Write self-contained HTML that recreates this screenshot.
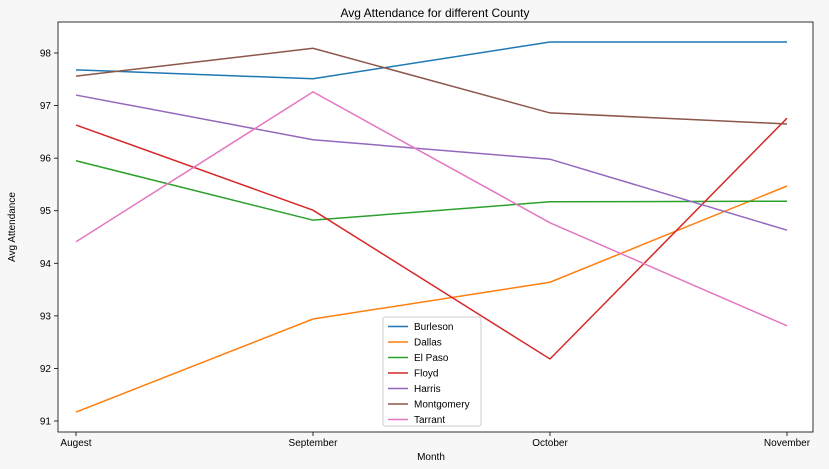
<!DOCTYPE html>
<html><head><meta charset="utf-8"><style>
body{margin:0;background:#f7f7f7;}
svg{display:block;font-family:"Liberation Sans","DejaVu Sans",sans-serif;}
</style></head><body>
<svg id="chart" width="829" height="469">
<rect x="0" y="0" width="829" height="469" fill="#f7f7f7"/>
<rect x="58" y="22" width="755" height="410" fill="#fff" stroke="#000" stroke-width="0.8"/>
<text x="435" y="17" text-anchor="middle" font-size="12">Avg Attendance for different County</text>
<text x="431" y="460" text-anchor="middle" font-size="10">Month</text>
<text x="15" y="227" text-anchor="middle" font-size="10" transform="rotate(-90 15 227)">Avg Attendance</text>
<g id="axes"></g><g id="lines"></g><g id="legend"></g>
</svg>
<script>
const categories=["Augest","September","October","November"];
const yTicks=[91,92,93,94,95,96,97,98];
const seriesNames=["Burleson","Dallas","El Paso","Floyd","Harris","Montgomery","Tarrant"];
const burleson=[97.68,97.51,98.21,98.21];
const dallas=[91.17,92.94,93.64,95.47];
const elPaso=[95.95,94.82,95.17,95.18];
const floyd=[96.63,95.01,92.18,96.76];
const harris=[97.2,96.35,95.98,94.63];
const montgomery=[97.56,98.09,96.86,96.65];
const tarrant=[94.41,97.26,94.77,92.81];
const seriesValues=[burleson,dallas,elPaso,floyd,harris,montgomery,tarrant];
const colors=["#1f77b4","#ff7f0e","#2ca02c","#d62728","#9467bd","#8c564b","#e377c2"];
const NS="http://www.w3.org/2000/svg";
function xS(i){return 76+i*(787-76)/(categories.length-1);}
function yS(v){return 421-(v-91)*(421-53)/7;}
function mk(t,a,p){const e=document.createElementNS(NS,t);for(const k in a)e.setAttribute(k,a[k]);p.appendChild(e);return e;}
const axes=document.getElementById('axes');
categories.forEach((c,i)=>{
 const t=mk('line',{x1:xS(i),x2:xS(i),y1:432,y2:436,stroke:'#000','stroke-width':0.8},axes);
 
 
 const l=mk('text',{x:xS(i),y:446,'text-anchor':'middle','font-size':10},axes);l.textContent=c;
 
 
});
yTicks.forEach(v=>{
 const t=mk('line',{x1:54,x2:58,y1:yS(v),y2:yS(v),stroke:'#000','stroke-width':0.8},axes);
 
 
 const l=mk('text',{x:51,y:yS(v)+3.5,'text-anchor':'end','font-size':10},axes);l.textContent=v;
 
 
});
const lines=document.getElementById('lines');
seriesValues.forEach((s,k)=>{
 const p=mk('polyline',{points:s.map((v,i)=>xS(i)+','+yS(v)).join(' '),fill:'none',stroke:colors[k],'stroke-width':1.5},lines);
 
 
});
const lg=document.getElementById('legend');
const box=mk('rect',{x:383,y:317,width:98,height:109,fill:'#fff',stroke:'#ccc',rx:2},lg);


seriesNames.forEach((n,k)=>{
 const y=326.5+k*15.5;
 const ln=mk('line',{x1:388,x2:408,y1:y,y2:y,stroke:colors[k],'stroke-width':1.5},lg);
 
 
 const t=mk('text',{x:414,y:y+3.5,'font-size':10},lg);t.textContent=n;
 
 
});
</script>
</body></html>
